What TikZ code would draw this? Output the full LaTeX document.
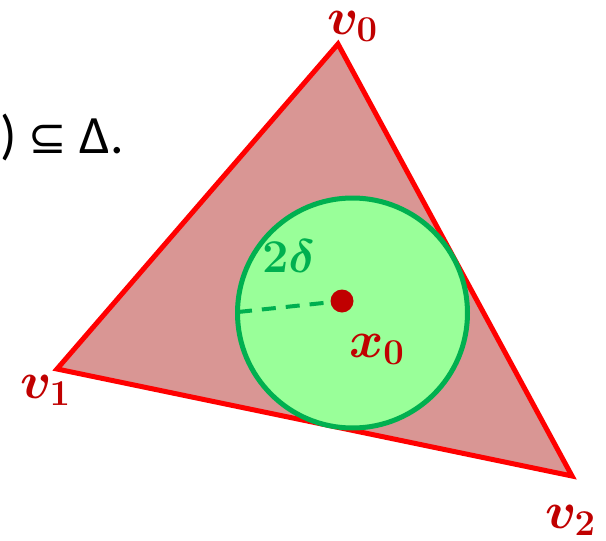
\RequirePackage{fix-cm}
\documentclass[tikz,border=0pt]{standalone}
\usepackage{amsmath,amssymb}
\usepackage{fontspec}
\usepackage{xcolor}
\newfontfamily\carlito{Carlito}
\newfontfamily\dejavu{DejaVu Sans}
\definecolor{simplexfill}{HTML}{D99694}
\definecolor{ballfill}{HTML}{99FF99}
\definecolor{ballgreen}{HTML}{00B050}
\definecolor{labelred}{HTML}{C00000}

\begin{document}
\begin{tikzpicture}[x=1pt,y=-1pt,
  vlabel/.style={inner sep=0pt,anchor=base west,text=labelred,
    font=\fontsize{52}{56}\selectfont\boldmath}]
\useasboundingbox (0,0) rectangle (606,541);
\coordinate (v0) at (338,44); \coordinate (v1) at (57,369); \coordinate (v2) at (572,476);
\coordinate (x0) at (342,301); \coordinate (rim) at (238,312);
% simplex
\filldraw[fill=simplexfill,draw=red,line width=5pt,line join=miter] (v0) -- (v1) -- (v2) -- cycle;
% ball around x0
\filldraw[fill=ballfill,draw=ballgreen,line width=5pt] (352.5,313) circle [radius=115];
\draw[ballgreen,line width=4pt,dash pattern=on 14pt off 10pt] (rim) -- (x0);
\fill[labelred] (x0) circle [radius=11.5];
\node[vlabel] (lv0) at (327,34) {$v_0$};
\node[vlabel] (lv1) at (20,398) {$v_1$};
\node[vlabel] (lv2) at (545,528) {$v_2$};
\node[vlabel] (lx0) at (349,357) {$x_0$};
\node[vlabel,text=ballgreen,font=\fontsize{47}{50}\selectfont\boldmath] (rad) at (262,272) {$2\delta$};
\node[inner sep=0pt,anchor=base east,font=\fontsize{54}{60}\selectfont\carlito] (incl) at (124,153)
  {) {\dejavu\fontsize{46}{50}\selectfont ⊆} Δ.};
\end{tikzpicture}
\end{document}
